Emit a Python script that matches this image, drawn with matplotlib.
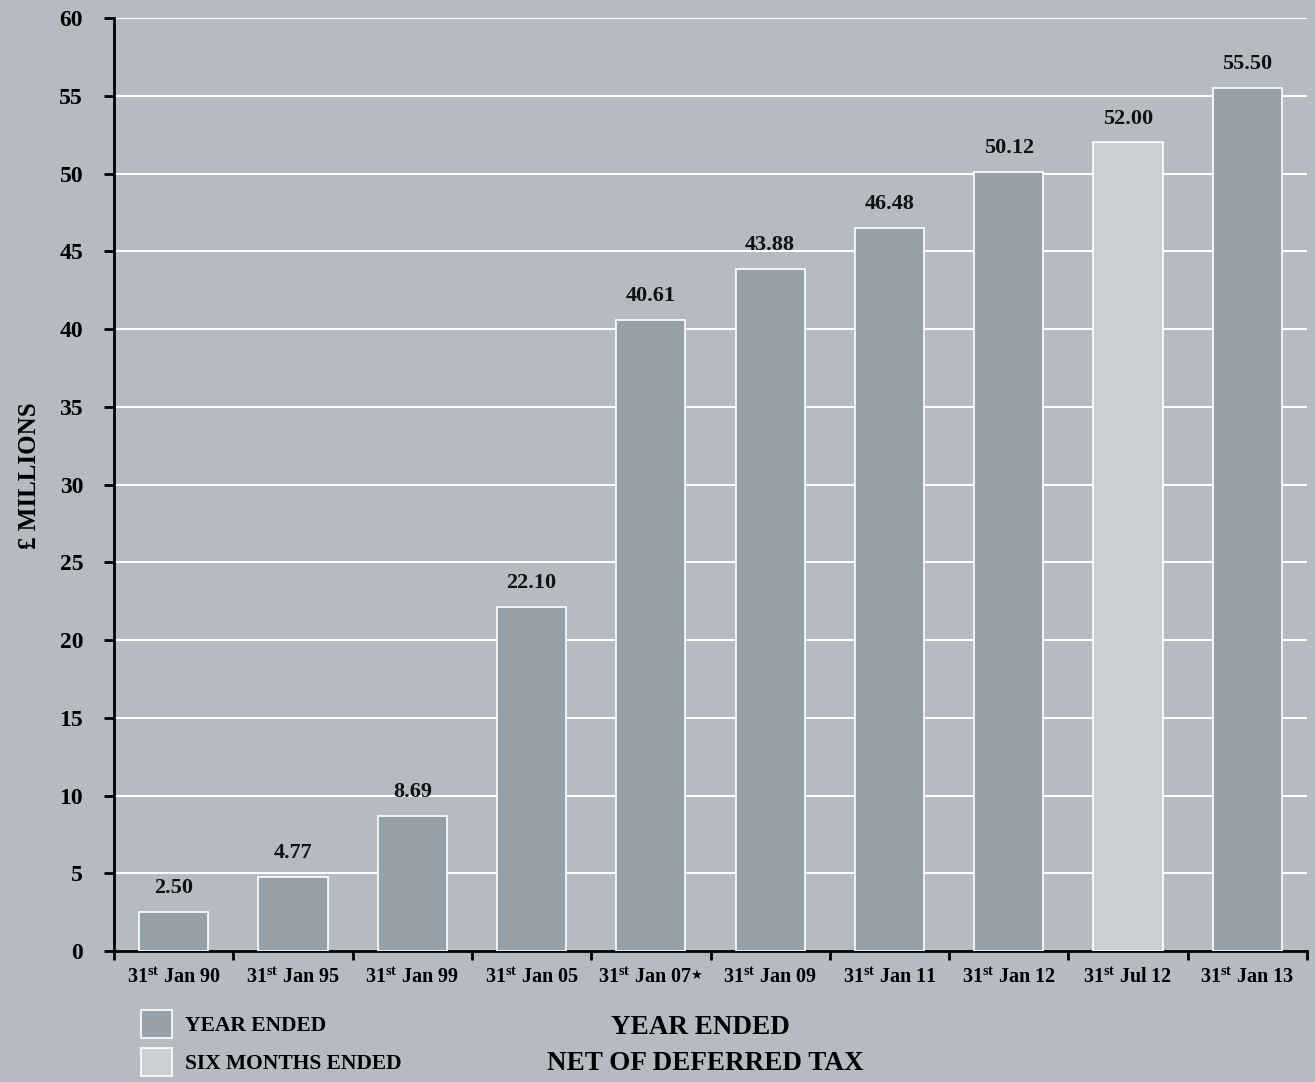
import matplotlib.pyplot as plt
from matplotlib.patches import Patch

# data
dates = ['Jan 90', 'Jan 95', 'Jan 99', 'Jan 05', 'Jan 07', 'Jan 09',
         'Jan 11', 'Jan 12', 'Jul 12', 'Jan 13']
values = [2.50, 4.77, 8.69, 22.10, 40.61, 43.88, 46.48, 50.12, 52.00, 55.50]
six_months = [False, False, False, False, False, False, False, False, True, False]
starred = [False, False, False, False, True, False, False, False, False, False]

BG = '#b5bbc1'
DARK = '#96a0a8'
LIGHT = '#cbd0d4'

plt.rcParams['font.family'] = ['Liberation Serif', 'DejaVu Serif']
plt.rcParams['font.weight'] = 'bold'
plt.rcParams['mathtext.fontset'] = 'custom'
plt.rcParams['mathtext.rm'] = 'Liberation Serif:bold'
plt.rcParams['mathtext.bf'] = 'Liberation Serif:bold'
plt.rcParams['mathtext.it'] = 'Liberation Serif:bold'

fig = plt.figure(figsize=(13.15, 10.82), dpi=100, facecolor=BG)
ax = fig.add_axes([114 / 1315, 1 - 951 / 1082, (1307 - 114) / 1315, (951 - 18) / 1082])
ax.set_facecolor(BG)

x = list(range(len(values)))
colors = [LIGHT if s else DARK for s in six_months]
bars = ax.bar(x, values, width=0.58, color=colors, edgecolor='white', linewidth=1.2, zorder=3)
ax.bar_label(bars, labels=[f'{v:.2f}' for v in values], padding=10,
             fontsize=16, fontweight='bold', color='#111111')

ax.set_xlim(-0.5, len(values) - 0.5)
ax.set_ylim(0, 60)
ax.set_yticks(range(0, 61, 5))
ax.tick_params(axis='y', labelsize=17, length=7.2, width=2, pad=15, colors='black')
for lbl in ax.get_yticklabels():
    lbl.set_fontweight('bold')
for yv in range(5, 61, 5):
    ax.axhline(yv, color='white', linewidth=1.5, zorder=1)

# boundary ticks, labels centred between
ax.set_xticks([i - 0.5 for i in range(len(values) + 1)])
ax.set_xticklabels([])
ax.tick_params(axis='x', length=6.5, width=2, colors='black')
for i, d in enumerate(dates):
    xpos = i - 0.05 if starred[i] else i
    t = ax.text(xpos, -1.7, r'31$^{\mathregular{st}}$ ' + d, ha='center', va='center',
                fontsize=14.5, fontweight='bold')
    if starred[i]:
        ax.annotate('★', xy=(1, 0.6), xycoords=t, xytext=(-1, 0), textcoords='offset points',
                    ha='left', va='center', fontsize=9.5, family='DejaVu Sans')

for s in ['top', 'right']:
    ax.spines[s].set_visible(False)
for s in ['left', 'bottom']:
    ax.spines[s].set_linewidth(2)
    ax.spines[s].set_color('black')

fig.text(30 / 1315, 1 - 476 / 1082, '£ MILLIONS', rotation=90, ha='center', va='center',
         fontsize=18, fontweight='bold')

fig.text(700 / 1315, 1 - 1027 / 1082, 'YEAR ENDED', ha='center', va='center',
         fontsize=19.5, fontweight='bold')
fig.text(705 / 1315, 1 - 1063 / 1082, 'NET OF DEFERRED TAX', ha='center', va='center',
         fontsize=19.5, fontweight='bold')

handles = [Patch(facecolor=DARK, edgecolor='white', linewidth=1.2, label='YEAR ENDED'),
           Patch(facecolor=LIGHT, edgecolor='white', linewidth=1.2, label='SIX MONTHS ENDED')]
fig.legend(handles=handles, loc='upper left', bbox_to_anchor=(141 / 1315, 1 - 1010 / 1082),
           frameon=False, fontsize=15.5, handlelength=1.45, handleheight=1.6,
           labelspacing=0.5, handletextpad=0.6, borderaxespad=0, borderpad=0)

fig.savefig('out.png', dpi=100, facecolor=BG)
